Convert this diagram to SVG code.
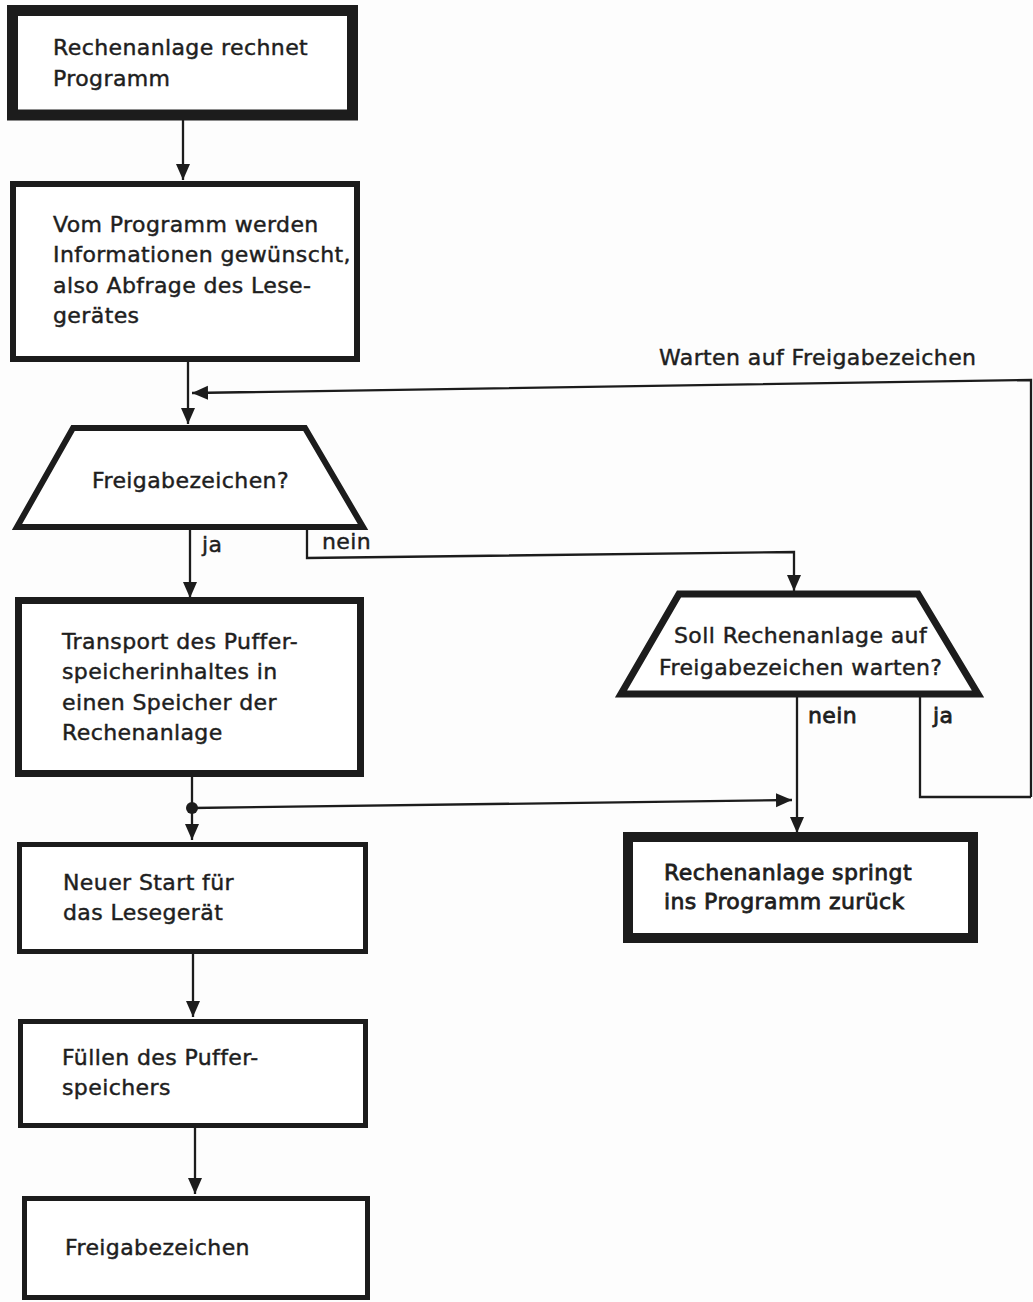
<svg xmlns="http://www.w3.org/2000/svg" width="1033" height="1302" viewBox="0 0 1033 1302">
<defs>
<style>
.bg{fill:#fdfdfd}
.box{fill:#fff;stroke:#1c1c1c}
.t{font-family:"DejaVu Sans","Liberation Sans",sans-serif;font-size:22px;letter-spacing:0.4px;fill:#1e1e1e;stroke:#1e1e1e;stroke-width:0.45px}
.b{stroke-width:0.8px}
.c{fill:none;stroke:#1c1c1c;stroke-width:2.3}
</style>
<marker id="ah" markerUnits="userSpaceOnUse" markerWidth="18" markerHeight="16" refX="16" refY="7" orient="auto">
<path d="M0,0 L16,7 L0,14 Z" fill="#1c1c1c"/>
</marker>
</defs>
<rect class="bg" x="0" y="0" width="1033" height="1302"/>

<g id="connectors">
<polyline class="c" points="183,120 183,180" marker-end="url(#ah)"/>
<polyline class="c" points="188,362 188,424" marker-end="url(#ah)"/>
<polyline class="c" points="1031,797 1031,380 192,393" marker-end="url(#ah)"/>
<polyline class="c" points="190,528 190,598" marker-end="url(#ah)"/>
<polyline class="c" points="307,528 307,558 794,552 794,591" marker-end="url(#ah)"/>
<polyline class="c" points="192,777 192,840" marker-end="url(#ah)"/>
<polyline class="c" points="192,808 792,800" marker-end="url(#ah)"/>
<circle cx="192" cy="808" r="6" fill="#1c1c1c"/>
<polyline class="c" points="797,694 797,833" marker-end="url(#ah)"/>
<polyline class="c" points="920,694 920,797 1031,797"/>
<polyline class="c" points="193,953 193,1017" marker-end="url(#ah)"/>
<polyline class="c" points="195,1128 195,1194" marker-end="url(#ah)"/>
<text class="t" x="202" y="552">ja</text>
<text class="t" x="322" y="549">nein</text>
<text class="t b" x="808" y="723">nein</text>
<text class="t b" x="933" y="723">ja</text>
<text class="t" x="659" y="365">Warten auf Freigabezeichen</text>
</g>

<g id="n1">
<rect class="box" x="12.5" y="10.5" width="340" height="104.5" stroke-width="11"/>
<text class="t" x="53" y="55">Rechenanlage rechnet</text>
<text class="t" x="53" y="86">Programm</text>
</g>

<g id="n2">
<rect class="box" x="13" y="184" width="344" height="175" stroke-width="6"/>
<text class="t" x="53" y="232">Vom Programm werden</text>
<text class="t" x="53" y="262">Informationen gewünscht,</text>
<text class="t" x="53" y="293">also Abfrage des Lese-</text>
<text class="t" x="53" y="323">gerätes</text>
</g>

<g id="d1">
<polygon class="box" points="73,428 305,428 363,527 17,527" stroke-width="6" stroke-linejoin="miter"/>
<text class="t" x="92" y="488">Freigabezeichen?</text>
</g>

<g id="n3">
<rect class="box" x="18.5" y="600.5" width="342" height="173" stroke-width="7"/>
<text class="t" x="62" y="649">Transport des Puffer-</text>
<text class="t" x="62" y="679">speicherinhaltes in</text>
<text class="t" x="62" y="710">einen Speicher der</text>
<text class="t" x="62" y="740">Rechenanlage</text>
</g>

<g id="n4">
<rect class="box" x="19.5" y="844.5" width="346" height="107" stroke-width="5"/>
<text class="t" x="63" y="890">Neuer Start für</text>
<text class="t" x="63" y="920">das Lesegerät</text>
</g>

<g id="n5">
<rect class="box" x="20.5" y="1021.5" width="345" height="104" stroke-width="5"/>
<text class="t" x="62" y="1065">Füllen des Puffer-</text>
<text class="t" x="62" y="1095">speichers</text>
</g>

<g id="n6">
<rect class="box" x="24.5" y="1198.5" width="343" height="99" stroke-width="5"/>
<text class="t" x="65" y="1255">Freigabezeichen</text>
</g>

<g id="d2">
<polygon class="box" points="679,594 918,594 978,694 621,694" stroke-width="7"/>
<text class="t" x="674" y="643">Soll Rechenanlage auf</text>
<text class="t" x="659" y="675">Freigabezeichen warten?</text>
</g>

<g id="n7">
<rect class="box" x="628" y="837" width="345" height="101" stroke-width="10"/>
<text class="t b" x="664" y="880">Rechenanlage springt</text>
<text class="t b" x="664" y="909">ins Programm zurück</text>
</g>
</svg>
